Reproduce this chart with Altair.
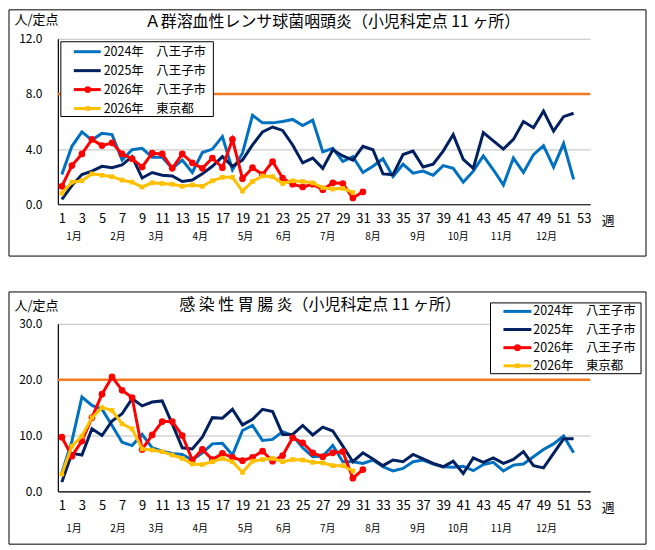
import altair as alt
import pandas as pd

FONT = "Noto Sans CJK JP"

weeks = list(range(1, 53))
x_ticks = list(range(1, 54, 2))
series_names = ["2024年　八王子市", "2025年　八王子市", "2026年　八王子市", "2026年　東京都"]
series_colors = ["#0070C0", "#002060", "#FF0000", "#FFC000"]
threshold_color = "#F47A20"
months = ["1月", "2月", "3月", "4月", "5月", "6月", "7月", "8月", "9月", "10月", "11月", "12月"]
month_weeks = [2.2, 6.6, 10.4, 14.8, 19.3, 23.1, 27.5, 32.0, 36.5, 40.5, 44.8, 49.3]

# A群溶血性レンサ球菌咽頭炎
gas_title = "Ａ群溶血性レンサ球菌咽頭炎（小児科定点 11 ヶ所）"
gas_ticks = [0, 4, 8, 12]
gas_threshold = 8.0
gas_2024 = [2.15, 4.2, 5.25, 4.65, 5.15, 5.05, 3.2, 3.95, 4.05, 3.4,
            3.4, 2.6, 3.2, 2.3, 3.75, 4.0, 4.9, 2.5, 3.7, 6.45,
            5.9, 5.9, 6.0, 6.15, 5.7, 6.1, 3.8, 4.05, 3.1, 3.45,
            2.3, 2.75, 3.3, 2.0, 2.9, 2.25, 2.4, 2.1, 2.8, 2.6,
            1.6, 2.4, 3.5, 2.5, 1.4, 3.35, 2.3, 3.6, 4.25, 2.7,
            4.4, 1.8]
gas_2025 = [0.35, 1.35, 2.15, 2.4, 2.75, 2.65, 2.85, 3.45, 1.9, 2.3,
            2.1, 2.05, 1.65, 1.75, 2.2, 2.75, 3.45, 2.75, 3.2, 4.3,
            5.25, 5.6, 5.35, 4.3, 3.0, 3.35, 2.6, 3.95, 3.5, 3.2,
            4.2, 3.95, 2.2, 2.15, 3.6, 3.85, 2.7, 2.9, 3.85, 5.05,
            3.25, 2.6, 5.2, 4.6, 4.0, 4.7, 6.0, 5.55, 6.75, 5.3,
            6.35, 6.6]
gas_2026_hachioji = [1.3, 2.8, 3.65, 4.7, 4.25, 4.45, 3.65, 3.3, 2.7, 3.7,
                     3.65, 2.6, 3.65, 3.0, 2.6, 3.35, 2.65, 4.7, 1.85, 2.65,
                     2.15, 3.1, 1.9, 1.45, 1.25, 1.45, 1.05, 1.55, 1.5, 0.45,
                     0.9]
gas_2026_tokyo = [0.8, 1.6, 1.7, 2.2, 2.1, 2.0, 1.75, 1.6, 1.25, 1.55,
                  1.5, 1.45, 1.3, 1.4, 1.3, 1.7, 1.95, 1.95, 0.95, 1.65,
                  2.05, 2.0, 1.5, 1.7, 1.65, 1.55, 1.2, 1.1, 1.15, 0.85]

# 感染性胃腸炎
ige_title = "感 染 性 胃 腸 炎（小児科定点 11 ヶ所）"
ige_ticks = [0, 10, 20, 30]
ige_threshold = 20.0
ige_2024 = [3.3, 9.0, 16.9, 15.4, 14.7, 11.8, 8.8, 8.2, 10.2, 7.8,
            7.2, 6.8, 6.6, 5.6, 6.9, 8.5, 8.6, 6.5, 10.9, 11.8,
            9.1, 9.3, 10.7, 10.0, 7.8, 6.2, 6.3, 8.2, 5.3, 5.3,
            5.0, 5.6, 4.4, 3.65, 4.1, 5.3, 5.6, 4.9, 4.4, 4.3,
            4.5, 3.7, 4.8, 5.2, 3.65, 4.7, 4.9, 6.2, 7.5, 8.5,
            9.9, 6.9]
ige_2025 = [1.65, 6.8, 6.5, 11.2, 10.0, 12.6, 13.9, 16.6, 15.3, 16.0,
            16.2, 12.1, 7.8, 7.6, 9.7, 13.2, 13.1, 14.7, 11.9, 12.9,
            14.7, 14.3, 10.2, 10.2, 11.8, 10.1, 11.5, 10.8, 8.1, 5.3,
            6.9, 5.8, 4.6, 5.6, 5.3, 6.6, 5.8, 5.0, 4.4, 5.4,
            3.2, 6.0, 5.2, 6.0, 5.0, 5.7, 7.1, 4.6, 4.2, 6.8,
            9.4, 9.4]
ige_2026_hachioji = [9.7, 6.3, 9.0, 13.2, 17.4, 20.5, 18.1, 16.8, 7.5, 10.1,
                     12.5, 12.5, 10.0, 5.6, 7.5, 5.7, 6.8, 6.1, 5.5, 6.1,
                     7.2, 5.4, 6.4, 9.6, 8.7, 6.9, 6.2, 6.9, 7.1, 2.35,
                     3.9]
ige_2026_tokyo = [3.1, 8.1, 9.9, 13.2, 15.0, 14.5, 12.1, 11.2, 7.6, 7.4,
                  7.1, 6.5, 5.9, 4.9, 4.8, 5.3, 5.9, 5.3, 3.4, 5.4,
                  5.7, 5.9, 5.3, 5.7, 5.6, 5.2, 5.1, 4.6, 4.6, 3.65]

W = 534


def one_row(**kw):
    return pd.DataFrame({k: [v] for k, v in kw.items()})


def panel(title, title_x, title_y, ymax, yticks, series, threshold, H,
          frame_top, frame_bottom, leg_box, leg_row0, leg_dy, leg_x, month_dy, unit_y):
    x_scale = alt.Scale(domain=[0.6, 53.65], nice=False, zero=False)
    y_scale = alt.Scale(domain=[0, ymax], nice=False, zero=True)
    x_axis = alt.Axis(values=x_ticks, title=None, grid=False, ticks=False,
                      labelFontSize=13, labelPadding=8, domainColor="black",
                      domainWidth=1.2, labelColor="black", labelFont=FONT,
                      labelOverlap=False, labelFlush=False)
    y_axis = alt.Axis(values=yticks, format=".1f", title=None, grid=True,
                      gridColor="#BFBFBF", gridWidth=1, ticks=False,
                      labelFontSize=12, labelPadding=16, domainColor="black",
                      domainWidth=1.2, labelColor="black", labelFont=FONT)
    X = alt.X("week:Q", scale=x_scale, axis=x_axis)
    Y = alt.Y("value:Q", scale=y_scale, axis=y_axis)

    layers = []
    # threshold line
    layers.append(
        alt.Chart(one_row(value=threshold)).mark_rule(color=threshold_color, strokeWidth=2.5)
        .encode(x=alt.value(0), x2=alt.value(W), y=Y)
    )
    # data lines
    for name, vals, col in zip(series_names, series, series_colors):
        df = pd.DataFrame({"week": weeks[:len(vals)], "value": vals})
        layers.append(alt.Chart(df).mark_line(color=col, strokeWidth=3).encode(x=X, y=Y))
        if name == series_names[2]:
            layers.append(alt.Chart(df).mark_point(shape="circle", filled=True, size=45,
                                                   color=col, opacity=1).encode(x=X, y=Y))
        if name == series_names[3]:
            layers.append(alt.Chart(df).mark_point(shape="square", filled=True, size=22,
                                                   color=col, opacity=1).encode(x=X, y=Y))
    # legend box
    bx0, bx1, by0, by1 = leg_box
    layers.append(
        alt.Chart(one_row(a=1)).mark_rect(fill="white", stroke="black", strokeWidth=1)
        .encode(x=alt.value(bx0), x2=alt.value(bx1), y=alt.value(by0), y2=alt.value(by1))
    )
    lx0, lx1, lmark, ltext = leg_x
    for i, (name, col) in enumerate(zip(series_names, series_colors)):
        yy = leg_row0 + i * leg_dy
        layers.append(
            alt.Chart(one_row(label=name)).mark_rule(color=col, strokeWidth=3)
            .encode(x=alt.value(lx0), x2=alt.value(lx1), y=alt.value(yy))
        )
        if i == 2:
            layers.append(alt.Chart(one_row(label=name)).mark_point(
                shape="circle", filled=True, size=45, color=col, opacity=1)
                .encode(x=alt.value(lmark), y=alt.value(yy)))
        if i == 3:
            layers.append(alt.Chart(one_row(label=name)).mark_point(
                shape="square", filled=True, size=22, color=col, opacity=1)
                .encode(x=alt.value(lmark), y=alt.value(yy)))
        layers.append(
            alt.Chart(one_row(label=name)).mark_text(align="left", baseline="middle",
                                                     fontSize=12.5, font=FONT, color="black")
            .encode(x=alt.value(ltext), y=alt.value(yy), text="label:N")
        )
    # month labels
    mdf = pd.DataFrame({"week": month_weeks, "label": months})
    layers.append(
        alt.Chart(mdf).mark_text(fontSize=10, font=FONT, color="black", baseline="middle")
        .encode(x=X, y=alt.value(H + month_dy), text="label:N")
    )
    # 週 label
    layers.append(
        alt.Chart(one_row(label="週")).mark_text(fontSize=13, font=FONT, color="black", baseline="middle")
        .encode(x=alt.value(552), y=alt.value(H + 16.5), text="label:N")
    )
    # unit label
    layers.append(
        alt.Chart(one_row(label="人/定点")).mark_text(fontSize=13, font=FONT, color="black", baseline="middle")
        .encode(x=alt.value(-21.5), y=alt.value(unit_y), text="label:N")
    )
    # title
    layers.append(
        alt.Chart(one_row(label=title)).mark_text(fontSize=16, font=FONT, color="black", baseline="middle")
        .encode(x=alt.value(title_x), y=alt.value(title_y), text="label:N")
    )
    # panel frame
    layers.append(
        alt.Chart(one_row(a=1)).mark_rect(fillOpacity=0, stroke="black", strokeWidth=1)
        .encode(x=alt.value(-49), x2=alt.value(590), y=alt.value(frame_top), y2=alt.value(frame_bottom))
    )
    return alt.layer(*layers).properties(width=W, height=H)


H1 = 166
top = panel(gas_title, 275.5, -17, 12, gas_ticks,
            [gas_2024, gas_2025, gas_2026_hachioji, gas_2026_tokyo], gas_threshold,
            H1, -29, H1 + 52, (3, 156, 3, 78), 13, 19, (16, 43, 30, 46), 33, -19)

H2 = 168
bottom = panel(ige_title, 263, -18.5, 30, ige_ticks,
               [ige_2024, ige_2025, ige_2026_hachioji, ige_2026_tokyo], ige_threshold,
               H2, -32, H2 + 53, (434, 585, -21, 50), -12.5, 18.2, (447, 475, 461, 477), 38, -18)

chart = alt.vconcat(top, bottom, spacing=34).properties(padding=0).configure_view(stroke=None)

chart.save("out.html", embed_options={"renderer": "svg", "actions": False})
